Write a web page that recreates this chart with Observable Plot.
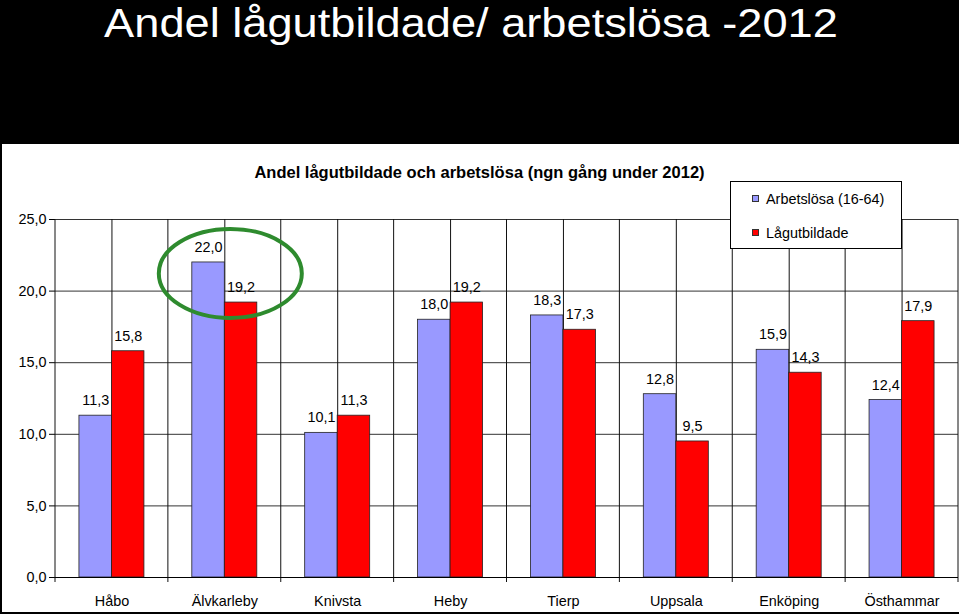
<!DOCTYPE html>
<html>
<head>
<meta charset="utf-8">
<script src="https://cdn.jsdelivr.net/npm/d3@7"></script>
<script src="https://cdn.jsdelivr.net/npm/@observablehq/plot@0.6"></script>
<style>
  html, body { margin: 0; padding: 0; background: #000; width: 959px; height: 614px; overflow: hidden;
    font-family: "Liberation Sans", Arial, sans-serif; }
  #title { position: absolute; left: 0; top: 2.5px; width: 942px; text-align: center; color: #fff;
    font-size: 40px; line-height: 40px; white-space: nowrap; transform: scaleX(1.13); transform-origin: 471px 0; }
  #chart { position: absolute; left: 2px; top: 144px; width: 957px; height: 468px; background: #fff; }
  #subtitle { position: absolute; left: 2px; top: 164px; width: 955px; text-align: center; color: #000;
    font-size: 16.5px; line-height: 16.5px; font-weight: bold; white-space: nowrap; }
  #legend { position: absolute; left: 730px; top: 181px; width: 172px; height: 68px; box-sizing: border-box;
    border: 1px solid #000; background: #fff; }
  .item { position: absolute; left: 0; font-size: 14.4px; line-height: 14.4px; white-space: nowrap; color: #000; }
  .sw { position: absolute; width: 7px; height: 7px; box-sizing: border-box; border: 1px solid #333; }
  .lab { position: absolute; left: 35px; }
</style>
</head>
<body>
<div id="title"></div>
<div id="chart"></div>
<div id="subtitle"></div>
<div id="legend"></div>
<script>
const title = "Andel lågutbildade/ arbetslösa -2012";
const subtitle = "Andel lågutbildade och arbetslösa (ngn gång under 2012)";
const categories = ["Håbo", "Älvkarleby", "Knivsta", "Heby", "Tierp", "Uppsala", "Enköping", "Östhammar"];
const seriesNames = ["Arbetslösa (16-64)", "Lågutbildade"];
const seriesColors = ["#9999FF", "#FF0000"];
const arbetslosa = [11.3, 22.0, 10.1, 18.0, 18.3, 12.8, 15.9, 12.4];
const lagutbildade = [15.8, 19.2, 11.3, 19.2, 17.3, 9.5, 14.3, 17.9];
const yTicks = [0, 5, 10, 15, 20, 25];
const highlight = {cat: "Älvkarleby", value: 21.2};

document.getElementById("title").textContent = title;
document.getElementById("subtitle").textContent = subtitle;

const fmt = v => d3.format(".1f")(v).replace(".", ",");

const rows = categories.flatMap((c, i) => [
  {cat: c, series: seriesNames[0], value: arbetslosa[i]},
  {cat: c, series: seriesNames[1], value: lagutbildade[i]}
]);
const blueRows = rows.filter(d => d.series === seriesNames[0]);
const redRows = rows.filter(d => d.series === seriesNames[1]);

const W = 957, H = 468, ML = 53, MR = 1, MT = 75, MB = 35;
const step = (W - ML - MR) / categories.length;
const barW = 32.5;
const half = step / 2;

function bandwidthOf(x) {
  const b = x.bandwidth;
  return typeof b === "function" ? b() : (b ?? step);
}

const boundaries = (index, scales) => {
  const x = scales.x, y = scales.y;
  const bw = bandwidthOf(x);
  const g = d3.create("svg:g");
  const xs = categories.map(c => x(c)).concat([x(categories[categories.length - 1]) + bw]);
  for (const xv of xs) {
    g.append("line").attr("x1", xv).attr("x2", xv)
      .attr("y1", y(yTicks[yTicks.length - 1])).attr("y2", y(0) + 5)
      .attr("stroke", "#111").attr("stroke-width", 1);
  }
  return g.node();
};

const ellipse = (index, scales) => {
  const x = scales.x, y = scales.y;
  const bw = bandwidthOf(x);
  return d3.create("svg:ellipse")
    .attr("cx", x(highlight.cat) + bw / 2 + 6)
    .attr("cy", y(highlight.value))
    .attr("rx", 71.5).attr("ry", 44.5)
    .attr("fill", "none").attr("stroke", "#2E8B2E").attr("stroke-width", 4)
    .node();
};

const plot = Plot.plot({
  width: W, height: H,
  marginLeft: ML, marginRight: MR, marginTop: MT, marginBottom: MB,
  style: {fontFamily: "'Liberation Sans', Arial, sans-serif", fontSize: "14.4px", background: "#fff", color: "#000", overflow: "visible"},
  x: {domain: categories, padding: 0, round: false, tickSize: 0, tickPadding: 18, label: null},
  y: {domain: [0, 25], ticks: yTicks, tickFormat: fmt, tickSize: 6, tickPadding: 3, label: null},
  marks: [
    Plot.ruleY(yTicks, {stroke: "#333", strokeWidth: 1}),
    Plot.ruleX(categories, {x: d => d, y1: 0, y2: 25, stroke: "#111", strokeWidth: 1}),
    boundaries,
    Plot.barY(blueRows, {x: "cat", y: "value", fill: seriesColors[0], stroke: "#222", strokeWidth: 0.8,
      insetLeft: half - barW, insetRight: half}),
    Plot.barY(redRows, {x: "cat", y: "value", fill: seriesColors[1], stroke: "#222", strokeWidth: 0.8,
      insetLeft: half, insetRight: half - barW}),
    Plot.ruleY([0], {stroke: "#000", strokeWidth: 1}),
    Plot.text(blueRows, {x: "cat", y: "value", text: d => fmt(d.value), dx: -barW / 2, dy: -15, fill: "#000"}),
    Plot.text(redRows, {x: "cat", y: "value", text: d => fmt(d.value), dx: barW / 2, dy: -15, fill: "#000"}),
    ellipse
  ]
});
document.getElementById("chart").appendChild(plot);

// legend
const legend = document.getElementById("legend");
const legendTops = [10, 43.5];
seriesNames.forEach((name, i) => {
  const item = document.createElement("div");
  item.className = "item";
  item.style.top = legendTops[i] + "px";
  const sw = document.createElement("div");
  sw.className = "sw";
  sw.style.background = seriesColors[i];
  sw.style.left = "21px";
  sw.style.top = "3px";
  const lab = document.createElement("div");
  lab.className = "lab";
  lab.textContent = name;
  item.appendChild(sw);
  item.appendChild(lab);
  legend.appendChild(item);
});
</script>
</body>
</html>
